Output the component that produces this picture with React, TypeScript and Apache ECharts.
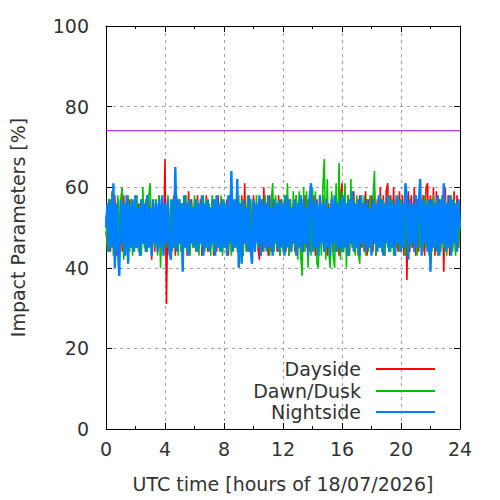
import React, { useEffect, useRef } from "react";
import * as echarts from "echarts";

// sampling step of all three series, in hours (0 .. 24)
const STEP_HOURS = 0.1;

const X_TICKS = [0, 4, 8, 12, 16, 20, 24];
const Y_TICKS = [0, 20, 40, 60, 80, 100];
const THRESHOLD = 74;

const SERIES_NAMES = ["Dayside", "Dawn/Dusk", "Nightside"];

const DAYSIDE = [
  49, 45, 57, 44, 56, 46, 58, 43, 57, 45, 56, 44, 58, 46, 55, 43, 57, 45, 56, 44,
  58, 45, 56, 43, 57, 46, 55, 44, 58, 45, 57, 42, 56, 44, 57, 45, 58, 43, 56, 45,
  67, 31, 57, 44, 56, 45, 58, 43, 55, 46, 57, 44, 56, 45, 58, 43, 59, 44, 57, 45,
  56, 44, 58, 45, 57, 43, 56, 46, 58, 44, 55, 45, 57, 43, 56, 44, 58, 45, 57, 44,
  56, 45, 57, 43, 58, 44, 56, 45, 57, 46, 55, 44, 58, 43, 61, 45, 56, 44, 57, 45,
  58, 44, 56, 45, 42, 57, 44, 60, 45, 56, 43, 58, 44, 57, 45, 56, 44, 58, 43, 57,
  45, 56, 44, 58, 43, 57, 45, 56, 44, 58, 45, 57, 43, 56, 44, 58, 45, 57, 44, 56,
  45, 58, 43, 57, 44, 56, 45, 58, 44, 57, 43, 56, 45, 58, 44, 57, 45, 56, 43, 58,
  61, 44, 57, 45, 58, 43, 56, 45, 59, 44, 57, 43, 58, 45, 56, 44, 59, 43, 57, 45,
  58, 44, 59, 43, 57, 45, 60, 44, 58, 43, 59, 61, 44, 58, 45, 60, 43, 57, 44, 59,
  44, 58, 43, 60, 37, 59, 44, 58, 45, 60, 43, 57, 44, 59, 45, 58, 43, 60, 61, 44,
  58, 45, 60, 43, 59, 44, 57, 45, 58, 39, 60, 44, 58, 43, 57, 45, 59, 44, 58, 45,
  52,
];

const DAWN_DUSK = [
  53, 44, 57, 45, 59, 43, 56, 45, 58, 44, 57, 60, 42, 56, 45, 58, 44, 57, 43, 56,
  45, 58, 44, 56, 43, 60, 45, 57, 44, 58, 61, 43, 56, 45, 57, 43, 58, 40, 57, 44,
  56, 45, 58, 43, 57, 44, 56, 45, 58, 43, 57, 44, 56, 45, 58, 44, 57, 43, 56, 45,
  58, 44, 57, 43, 56, 45, 58, 44, 57, 45, 56, 43, 58, 44, 57, 45, 56, 44, 58, 43,
  57, 45, 56, 44, 58, 43, 57, 45, 56, 44, 58, 45, 57, 43, 56, 44, 58, 45, 57, 43,
  56, 44, 58, 45, 57, 43, 56, 44, 58, 45, 57, 43, 56, 61, 44, 58, 45, 57, 43, 56,
  44, 58, 45, 61, 43, 57, 44, 59, 45, 58, 42, 59, 43, 38, 60, 44, 59, 40, 58, 43,
  60, 44, 59, 41, 40, 58, 43, 60, 67, 42, 62, 44, 40, 59, 43, 40, 61, 44, 66, 42,
  59, 44, 61, 40, 58, 43, 62, 45, 57, 43, 58, 44, 41, 57, 45, 58, 43, 57, 44, 58,
  45, 57, 64, 43, 56, 45, 58, 44, 57, 43, 56, 45, 58, 44, 57, 43, 56, 45, 58, 44,
  57, 45, 56, 43, 58, 44, 57, 45, 56, 44, 58, 43, 57, 45, 56, 44, 58, 45, 57, 43,
  56, 44, 58, 45, 57, 43, 56, 44, 58, 45, 57, 43, 56, 45, 58, 44, 57, 43, 56, 45,
  51,
];

const NIGHTSIDE = [
  50, 56, 44, 57, 45, 61, 40, 56, 45, 38, 57, 46, 56, 43, 58, 41, 56, 45, 57, 44,
  58, 45, 55, 43, 57, 46, 56, 44, 58, 45, 55, 43, 57, 46, 56, 44, 57, 45, 58, 43,
  56, 46, 57, 44, 42, 57, 45, 65, 44, 57, 46, 56, 39, 58, 45, 56, 43, 57, 46, 55,
  45, 57, 44, 56, 46, 58, 43, 56, 45, 57, 44, 55, 46, 57, 43, 58, 45, 56, 44, 57,
  45, 56, 43, 58, 46, 64, 44, 57, 45, 62, 40, 56, 41, 57, 46, 55, 44, 58, 45, 41,
  57, 44, 56, 46, 58, 43, 57, 45, 56, 44, 58, 45, 55, 43, 57, 46, 56, 44, 57, 45,
  56, 43, 58, 45, 57, 44, 55, 46, 57, 43, 56, 45, 58, 44, 57, 46, 55, 43, 57, 61,
  44, 57, 45, 56, 43, 58, 46, 56, 44, 57, 45, 55, 43, 57, 46, 58, 44, 56, 45, 57,
  44, 58, 45, 56, 43, 57, 46, 59, 44, 56, 45, 57, 43, 58, 46, 56, 44, 57, 45, 55,
  43, 57, 46, 56, 44, 58, 45, 57, 43, 56, 46, 58, 44, 57, 45, 56, 43, 58, 46, 57,
  44, 56, 45, 61, 57, 42, 57, 46, 56, 44, 58, 45, 56, 62, 43, 57, 46, 56, 44, 57,
  39, 57, 45, 56, 44, 58, 43, 57, 46, 61, 44, 56, 45, 58, 43, 57, 46, 56, 44, 57,
  50,
];

const COLORS = ["#ff0000", "#00c000", "#0080ff"];
const LINE_WIDTHS = [1.6, 1.6, 2.4];
const THRESHOLD_COLOR = "#9400d3";
const FONT = "DejaVu Sans";
const TEXT_COLOR = "#333333";
const FS = 19;

const toPoints = (vals: number[]) => vals.map((v, i) => [i * STEP_HOURS, v]);

export default function App() {
  const ref = useRef<HTMLDivElement>(null);
  useEffect(() => {
    if (!ref.current) return;
    const chart = echarts.init(ref.current, undefined, { renderer: "svg" });
    const xMin = X_TICKS[0];
    const xMax = X_TICKS[X_TICKS.length - 1];
    const xInt = X_TICKS[1] - X_TICKS[0];
    const yMin = Y_TICKS[0];
    const yMax = Y_TICKS[Y_TICKS.length - 1];
    const yInt = Y_TICKS[1] - Y_TICKS[0];
    const axisLine = { show: true, onZero: false, lineStyle: { color: "#000", width: 1 } };
    const tick = { show: true, inside: true, length: 6, lineStyle: { color: "#000", width: 1 } };
    const split = { show: true, lineStyle: { color: "#a0a0a0", width: 1, type: [3, 4] as any } };
    const allData = [DAYSIDE, DAWN_DUSK, NIGHTSIDE];
    const legendTops = [359, 381, 402];
    chart.setOption({
      animation: false,
      textStyle: { fontFamily: FONT },
      grid: { left: 106, right: 40, top: 26, bottom: 71 },
      legend: SERIES_NAMES.map((n, i) => ({
        data: [n],
        orient: "vertical",
        align: "right",
        right: 65,
        top: legendTops[i],
        padding: 0,
        icon: "rect",
        itemWidth: 59,
        itemHeight: 2,
        selectedMode: false,
        textStyle: {
          fontFamily: FONT,
          fontSize: FS,
          color: TEXT_COLOR,
          padding: [0, 10, 0, 0],
          lineHeight: 20,
        },
      })),
      xAxis: [
        {
          type: "value",
          min: xMin,
          max: xMax,
          interval: xInt,
          position: "bottom",
          axisLine,
          axisTick: tick,
          minorTick: { show: true, splitNumber: 2, length: 3, lineStyle: { color: "#000" } },
          splitLine: split,
          axisLabel: { fontFamily: FONT, fontSize: FS, color: TEXT_COLOR, margin: 10 },
          name: "UTC time [hours of 18/07/2026]",
          nameLocation: "middle",
          nameGap: 45,
          nameTextStyle: { fontFamily: FONT, fontSize: FS, color: TEXT_COLOR },
        },
        {
          type: "value",
          min: xMin,
          max: xMax,
          interval: xInt,
          position: "top",
          axisLine,
          axisTick: tick,
          minorTick: { show: true, splitNumber: 2, length: 3, lineStyle: { color: "#000" } },
          splitLine: { show: false },
          axisLabel: { show: false },
        },
      ],
      yAxis: [
        {
          type: "value",
          min: yMin,
          max: yMax,
          interval: yInt,
          position: "left",
          axisLine,
          axisTick: tick,
          splitLine: split,
          axisLabel: { fontFamily: FONT, fontSize: FS, color: TEXT_COLOR, margin: 17 },
          name: "Impact Parameters [%]",
          nameLocation: "middle",
          nameGap: 79,
          nameTextStyle: { fontFamily: FONT, fontSize: FS, color: TEXT_COLOR },
        },
        {
          type: "value",
          min: yMin,
          max: yMax,
          interval: yInt,
          position: "right",
          axisLine,
          axisTick: tick,
          splitLine: { show: false },
          axisLabel: { show: false },
        },
      ],
      series: [
        ...allData.map((vals, i) => ({
          name: SERIES_NAMES[i],
          type: "line",
          xAxisIndex: 0,
          yAxisIndex: 0,
          data: toPoints(vals),
          showSymbol: false,
          symbol: "none",
          color: COLORS[i],
          lineStyle: { color: COLORS[i], width: LINE_WIDTHS[i] },
          emphasis: { disabled: true },
        })),
        {
          name: "threshold",
          type: "line",
          data: [
            [xMin, THRESHOLD],
            [xMax, THRESHOLD],
          ],
          showSymbol: false,
          symbol: "none",
          lineStyle: { color: THRESHOLD_COLOR, width: 1 },
          emphasis: { disabled: true },
        },
      ],
    });
    return () => chart.dispose();
  }, []);
  return (
    <div
      ref={ref}
      style={{ position: "absolute", left: 0, top: 0, width: 500, height: 500 }}
    />
  );
}
